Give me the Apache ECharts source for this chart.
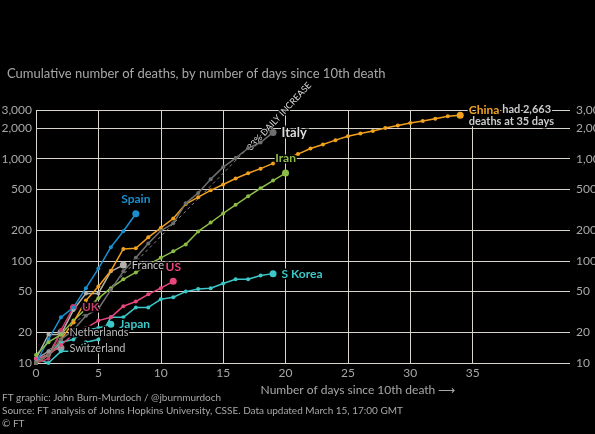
<!DOCTYPE html>
<html><head><meta charset="utf-8">
<script src="https://cdn.jsdelivr.net/npm/echarts@6/dist/echarts.min.js"></script>
<style>html,body{margin:0;background:#000}#c{width:595px;height:434px}</style>
</head><body><div id="c"></div>
<script>
const yTicks=[10,20,50,100,200,500,1000,2000,3000];
const xTicks=[0,5,10,15,20,25,30,35];
const china=[10,12,17,25,41,56,80,131,133,170,210,260,360,420,490,560,640,720,800,900,1010,1110,1260,1380,1520,1660,1770,1870,2000,2120,2240,2340,2460,2600,2663];
const italy=[10,12,17,21,29,34,52,79,107,148,197,233,366,463,631,827,1016,1266,1441,1809];
const iran=[12,16,19,26,34,43,54,66,77,92,107,124,145,194,237,291,354,429,514,611,724];
const spain=[10,17,28,35,54,84,136,195,289];
const france=[11,19,19,33,48,48,79,91];
const uk=[10,11,21,35];
const us=[11,12,15,19,22,26,28,36,40,47,54,63];
const japan=[11,12,16,17,21,22,24];
const skorea=[11,10,13,13,16,17,28,28,35,35,42,44,50,53,54,60,66,66,72,75];
const netherlands=[10,12,20];
const switzerland=[11,13,14];
const refLine=[[0,10],[19.5,2600]];
const font='Lato';
function s(name,data,color,lab,opt){
  const d=data.map((v,i)=>[i,v]);
  const last=d.length-1;
  d[last]={value:d[last],symbolSize:7,label:Object.assign({show:true,formatter:lab,color:color,fontFamily:font,fontSize:12,fontWeight:'bold',textBorderColor:'#000',textBorderWidth:3,position:'right'},opt||{})};
  return {name,type:'line',data:d,symbol:'circle',symbolSize:4,itemStyle:{color},lineStyle:{color,width:1.5},z:3,labelLayout:{hideOverlap:false}};
}
const chart=echarts.init(document.getElementById('c'));
chart.setOption({
  backgroundColor:'#000',animation:false,
  title:{text:'Cumulative number of deaths, by number of days since 10th death',left:2,top:62,textStyle:{color:'#a8a8a8',fontSize:13,fontWeight:'normal',fontFamily:font}},
  grid:{left:36,right:25,top:110,bottom:71,outerBoundsMode:'none',containLabel:false},
  xAxis:{type:'value',min:0,max:42.8,name:'Number of days since 10th death ⟶',nameLocation:'middle',nameGap:14,nameTextStyle:{color:'#a8a8a8',fontSize:12,fontFamily:font,padding:[0,0,0,110]},
    axisLine:{show:false},axisTick:{show:false,customValues:xTicks},
    axisLabel:{customValues:xTicks,color:'#a8a8a8',fontSize:12,fontFamily:font,margin:4},
    splitLine:{show:true,lineStyle:{color:'#d8d4cc',width:1}}},
  yAxis:[{type:'log',logBase:10,min:10,max:3000,axisLine:{show:false},
    axisTick:{customValues:yTicks,show:false},
    axisLabel:{customValues:yTicks,color:'#a8a8a8',fontSize:12,fontFamily:font,margin:4,formatter:v=>Math.round(v).toLocaleString('en-US')},
    splitLine:{show:true,lineStyle:{color:'#d8d4cc',width:1}}},
    {type:'log',logBase:10,min:10,max:3000,position:'right',axisLine:{show:false},axisTick:{customValues:yTicks,show:false},
    axisLabel:{customValues:yTicks,color:'#a8a8a8',fontSize:12,fontFamily:font,margin:6,formatter:v=>Math.round(v).toLocaleString('en-US')},splitLine:{show:false}}],
  graphic:[
    {type:'text',left:2,top:393,style:{text:'FT graphic: John Burn-Murdoch / @jburnmurdoch',fill:'#a8a8a8',fontSize:10,fontFamily:font}},
    {type:'text',left:2,top:406,style:{text:'Source: FT analysis of Johns Hopkins University, CSSE. Data updated March 15, 17:00 GMT',fill:'#a8a8a8',fontSize:10,fontFamily:font}},
    {type:'text',left:2,top:419,style:{text:'© FT',fill:'#a8a8a8',fontSize:10,fontFamily:font}}
  ],
  series:[
    {type:'line',data:[refLine[0],{value:refLine[1],label:{show:true,formatter:'33% DAILY INCREASE',rotate:47,position:'inside',align:'center',verticalAlign:'middle',offset:[-20,-18],color:'#ddd',fontSize:9,fontFamily:font,textBorderColor:'#000',textBorderWidth:2}}],symbol:'circle',symbolSize:0,showSymbol:true,lineStyle:{color:'#888',width:1,type:[3,3]},itemStyle:{color:'#888'},z:2,labelLayout:{hideOverlap:false}},
    s('Switzerland',switzerland,'#9a9a9a','Switzerland',{color:'#bbb',fontWeight:'normal',fontSize:11,offset:[-2,0]}),
    s('Netherlands',netherlands,'#9a9a9a','Netherlands',{color:'#bbb',fontWeight:'normal',fontSize:11,offset:[-2,2]}),
    s('Japan',japan,'#3cc8c8','Japan',{offset:[2,0]}),
    s('S Korea',skorea,'#3cc8c8','S Korea'),
    s('UK',uk,'#c93a6a','UK',{offset:[-2,0]}),
    s('France',france,'#b4b0aa','France',{color:'#ccc',fontWeight:'normal',fontSize:11,offset:[-2,-3]}),
    s('US',us,'#e8467c','US',{position:'top',offset:[0,-2]}),
    s('Spain',spain,'#1a8fd0','Spain',{position:'top',offset:[-6,-4]}),
    s('Iran',iran,'#8cbc46','Iran',{position:'top',offset:[0,-2]}),
    s('China',china,'#f2a11f','{a|China} {b|had 2,663}\n{b|deaths at 35 days}',{rich:{a:{color:'#f2a11f',fontWeight:'bold',fontSize:12,fontFamily:font,textBorderColor:'#000',textBorderWidth:3},b:{color:'#ccc',fontSize:11,fontFamily:font,textBorderColor:'#000',textBorderWidth:3}},offset:[0,7]}),
    s('Italy',italy,'#6e6e6e','Italy',{color:'#ddd',fontSize:13})
  ]
});
</script></body></html>
